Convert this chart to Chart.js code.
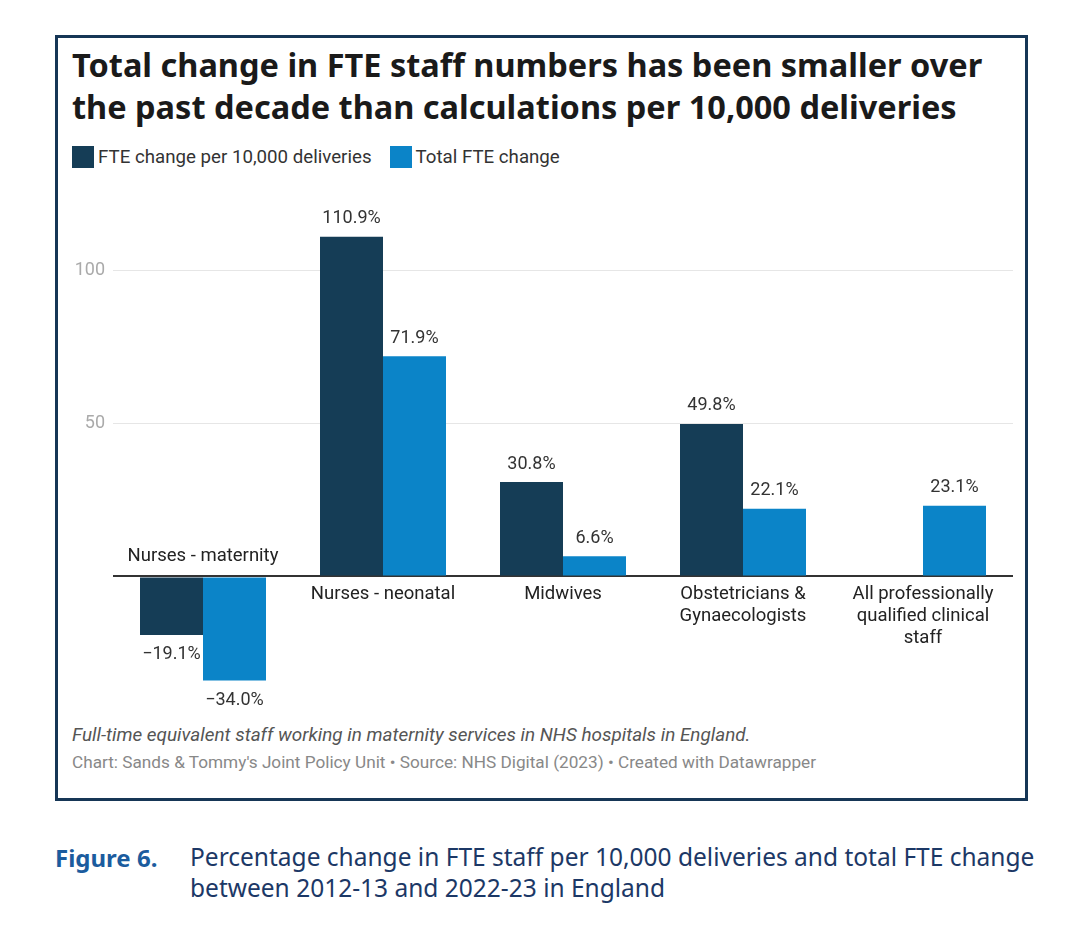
<!DOCTYPE html>
<html>
<head>
<meta charset="utf-8">
<script src="https://cdn.jsdelivr.net/npm/chart.js@4.4.1/dist/chart.umd.min.js"></script>
<style>
  body { margin: 0; background: #fff; width: 1079px; height: 939px; position: relative; overflow: hidden; }
  .box { position: absolute; left: 55px; top: 35px; width: 967px; height: 760px; border: 3px solid #163656; }
  .title { position: absolute; left: 72px; top: 44px; font-family: "Noto Sans", sans-serif; font-weight: bold;
           font-size: 32.5px; line-height: 42px; color: #1a1a1a; white-space: nowrap; }
  .legend { position: absolute; left: 72px; top: 146px; font-family: Roboto, sans-serif; font-size: 18.7px; color: #333; white-space: nowrap; }
  .legend span.sw { display: inline-block; width: 22px; height: 22px; vertical-align: -5px; margin-right: 4px; }
  .legend span.item { margin-right: 18px; }
  .chartwrap { position: absolute; left: 68px; top: 190px; width: 950px; height: 530px; }
  .note { position: absolute; left: 72px; top: 723px; font-family: Roboto, sans-serif; font-style: italic; font-size: 18.9px; color: #555; white-space: nowrap; }
  .src { position: absolute; left: 72px; top: 752px; font-family: Roboto, sans-serif; font-size: 17.2px; color: #888; white-space: nowrap; }
  .fig { position: absolute; left: 55px; top: 841px; font-family: "Noto Sans", sans-serif; font-weight: bold; font-size: 24px; color: #1b5c9e; }
  .cap { position: absolute; left: 190px; top: 841px; font-family: "Noto Sans", sans-serif; font-size: 24.5px; line-height: 31px; color: #1c3866; white-space: nowrap; }
</style>
</head>
<body>
<div class="box"></div>
<div class="title">Total change in FTE staff numbers has been smaller over<br>the past decade than calculations per 10,000 deliveries</div>
<div class="legend" id="legend"></div>
<div class="chartwrap"><canvas id="chart" width="950" height="530"></canvas></div>
<div class="note">Full-time equivalent staff working in maternity services in NHS hospitals in England.</div>
<div class="src">Chart: Sands &amp; Tommy's Joint Policy Unit • Source: NHS Digital (2023) • Created with Datawrapper</div>
<div class="fig">Figure 6.</div>
<div class="cap">Percentage change in FTE staff per 10,000 deliveries and total FTE change<br>between 2012-13 and 2022-23 in England</div>
<script>
const categories = [
  ['Nurses - maternity'],
  ['Nurses - neonatal'],
  ['Midwives'],
  ['Obstetricians &', 'Gynaecologists'],
  ['All professionally', 'qualified clinical', 'staff']
];
const perDeliveries = [-19.1, 110.9, 30.8, 49.8, null];
const totalChange = [-34.0, 71.9, 6.6, 22.1, 23.1];
const yTicks = [0, 50, 100];
const seriesNames = ['FTE change per 10,000 deliveries', 'Total FTE change'];
const seriesColors = ['#153d56', '#0b84c8'];

document.getElementById('legend').innerHTML = seriesNames.map((n, i) =>
  '<span class="item"><span class="sw" style="background:' + seriesColors[i] + '"></span>' + n + '</span>').join('');

const labelPlugin = {
  id: 'labels',
  afterDatasetsDraw(chart) {
    const ctx = chart.ctx;
    const y = chart.scales.y;
    const zero = y.getPixelForValue(0);
    ctx.save();
    ctx.textAlign = 'center';
    ctx.textBaseline = 'middle';
    // value labels
    ctx.font = '18px Roboto';
    ctx.fillStyle = '#333';
    chart.data.datasets.forEach((ds, di) => {
      chart.getDatasetMeta(di).data.forEach((bar, i) => {
        const v = ds.data[i];
        if (v === null) return;
        const txt = (v < 0 ? '\u2212' + Math.abs(v).toFixed(1) : v.toFixed(1)) + '%';
        ctx.fillText(txt, bar.x, v < 0 ? bar.y + 20 : bar.y - 18);
      });
    });
    // category labels
    ctx.font = '18.5px Roboto';
    ctx.fillStyle = '#222';
    categories.forEach((lines, i) => {
      const cx = chart.scales.x.getPixelForValue(i);
      const neg = (perDeliveries[i] !== null && perDeliveries[i] < 0) || totalChange[i] < 0;
      lines.forEach((ln, k) => {
        const ly = neg ? zero - 20 - (lines.length - 1 - k) * 22 : zero + 18 + k * 22;
        ctx.fillText(ln, cx, ly);
      });
    });
    ctx.restore();
  }
};

new Chart(document.getElementById('chart'), {
  type: 'bar',
  data: {
    labels: categories.map(c => c.join(' ')),
    datasets: [{
      label: seriesNames[0],
      data: perDeliveries,
      backgroundColor: seriesColors[0]
    }, {
      label: seriesNames[1],
      data: totalChange,
      backgroundColor: seriesColors[1]
    }]
  },
  options: {
    responsive: false,
    animation: false,
    devicePixelRatio: 1,
    layout: { padding: { top: 13, bottom: 21, left: 0, right: 5 } },
    plugins: { legend: { display: false }, tooltip: { enabled: false } },
    datasets: { bar: { categoryPercentage: 0.7, barPercentage: 1 } },
    scales: {
      x: { display: false },
      y: {
        min: -40,
        max: 120,
        afterBuildTicks: s => { s.ticks = yTicks.map(v => ({ value: v })); },
        afterFit: s => { s.width = 45; },
        border: { display: false },
        grid: {
          color: c => c.tick.value === 0 ? '#333' : '#e6e6e6',
          lineWidth: c => c.tick.value === 0 ? 2 : 1,
          drawTicks: false
        },
        ticks: {
          padding: 8,
          color: '#aaa',
          font: { family: 'Roboto', size: 18 },
          callback: v => v === 0 ? '' : v
        }
      }
    }
  },
  plugins: [labelPlugin]
});
</script>
</body>
</html>
